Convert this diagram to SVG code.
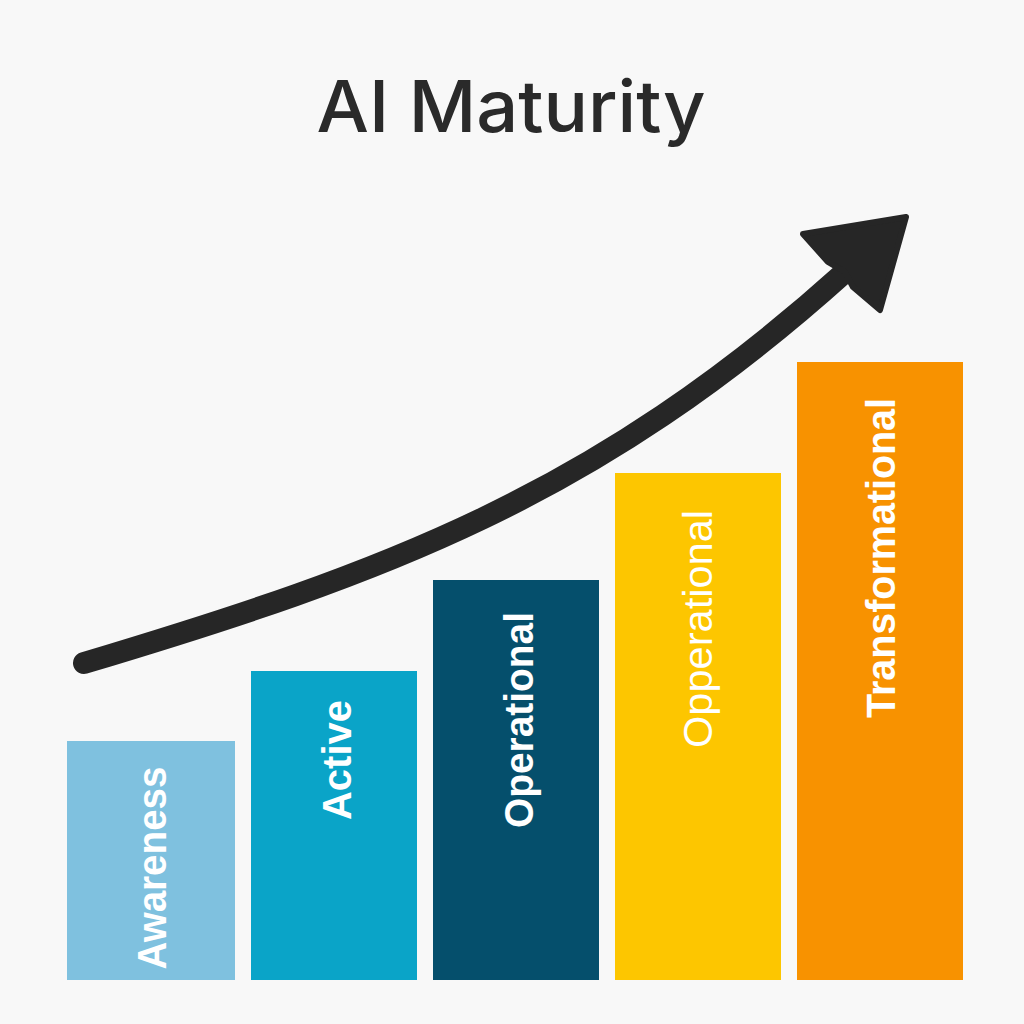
<svg xmlns="http://www.w3.org/2000/svg" width="1024" height="1024" viewBox="0 0 1024 1024">
<style>
.lbl{fill:#ffffff;font-family:"Liberation Sans",Arial,sans-serif;font-size:40px;text-anchor:middle}
.b{font-weight:bold}
.title{fill:#2a2a2a;font-family:Inter,"Liberation Sans",sans-serif;font-size:72px;font-weight:500;text-anchor:middle}
</style>
<rect width="1024" height="1024" fill="#f8f8f8"/>
<text class="title" x="511" y="132" textLength="389" lengthAdjust="spacingAndGlyphs">AI Maturity</text>
<g id="bar-awareness">
<rect x="67" y="741" width="168" height="239" fill="#7fc1df"/>
<text class="lbl b" transform="translate(166,868) rotate(-90)" textLength="203" lengthAdjust="spacingAndGlyphs">Awareness</text>
</g>
<g id="bar-active">
<rect x="251" y="671" width="166" height="309" fill="#0aa4c8"/>
<text class="lbl b" transform="translate(351,760) rotate(-90)" textLength="120" lengthAdjust="spacingAndGlyphs">Active</text>
</g>
<g id="bar-operational">
<rect x="433" y="580" width="166" height="400" fill="#054f6c"/>
<text class="lbl b" transform="translate(533,720) rotate(-90)" textLength="216" lengthAdjust="spacingAndGlyphs">Operational</text>
</g>
<g id="bar-opperational">
<rect x="615" y="473" width="166" height="507" fill="#fdc600"/>
<text class="lbl" transform="translate(712,629) rotate(-90)" textLength="238" lengthAdjust="spacingAndGlyphs">Opperational</text>
</g>
<g id="bar-transformational">
<rect x="797" y="362" width="166" height="618" fill="#f89200"/>
<text class="lbl" style="font-weight:600" transform="translate(895,558) rotate(-90)" textLength="320" lengthAdjust="spacingAndGlyphs">Transformational</text>
</g>
<g id="connectors">
<path d="M84,663 C384,573 595,497 845,272" fill="none" stroke="#262626" stroke-width="22" stroke-linecap="round"/>
<path d="M906,217 L803,234 L828,262 L845,272 L853,287 L880,310 Z" fill="#262626" stroke="#262626" stroke-width="6" stroke-linejoin="round"/>
</g>
</svg>
